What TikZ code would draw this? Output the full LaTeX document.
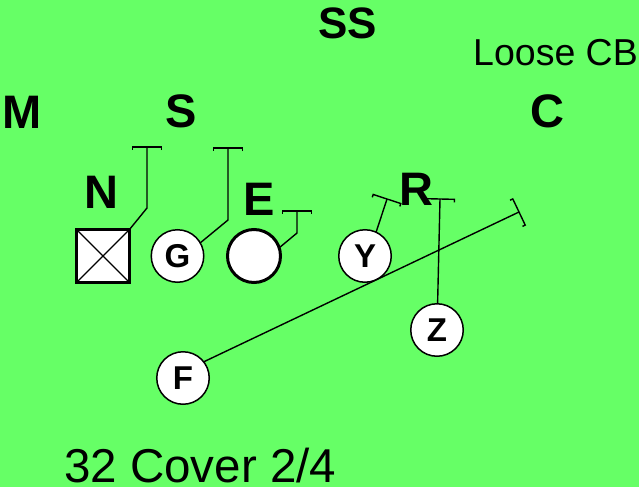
\documentclass[tikz,border=0pt]{standalone}
\usepackage{fontspec}
\setmainfont{Liberation Sans}
\usetikzlibrary{calc}
\definecolor{field}{RGB}{102,255,102}
\newcommand\blockbar[2]{%
  \coordinate (bk) at ($(#1)!3pt!(#2)$);
  \draw[route] ($(bk)!14.5pt!90:(#2)$) -- ($(#1)!14.5pt!90:(#2)$) -- ($(#1)!14.5pt!-90:(#2)$) -- ($(bk)!14.5pt!-90:(#2)$);}
\begin{document}
\begin{tikzpicture}[x=1pt,y=-1pt,
  lbl/.style={font={\fontsize{47}{50}\selectfont\bfseries}, inner sep=0, anchor=base},
  txt/.style={inner sep=0, anchor=base west},
  player/.style={circle, draw, fill=white, line width=1.5pt, minimum size=52.5pt, inner sep=0, outer sep=0, font={\fontsize{33}{36}\selectfont\bfseries}},
  route/.style={line width=1.4pt}]
\fill[field] (0,0) rectangle (639,487);
\useasboundingbox (0,0) rectangle (639,487);
% labels
\node[lbl, font={\fontsize{44}{47}\selectfont\bfseries}] (ss) at (347.5,39) {SS};
\node[txt, font={\fontsize{37.5}{40}\selectfont}] (loose) at (473,65) {Loose CB};
\node[lbl] (m) at (22.5,128) {M};
\node[lbl] (s) at (181,127.5) {S};
\node[lbl] (c) at (547,127) {C};
\node[lbl] (n) at (101,208) {N};
\node[lbl] (e) at (259.5,215) {E};
\node[lbl] (r) at (416,205) {R};
\node[txt, font={\fontsize{47.5}{50}\selectfont}] (title) at (64,482) {32 Cover 2/4};
% players
\node[draw, fill=white, line width=3pt, minimum size=53pt, inner sep=0, outer sep=0] (NB) at (103,256) {};
\draw[route] (NB.north west) -- (NB.south east) (NB.north east) -- (NB.south west);
\node[player] (G) at (177.5,256) {G};
\node[player, line width=3pt, minimum size=53pt] (T) at (254,256) {};
\node[player] (Y) at (365,256) {Y};
\node[player] (Z) at (437,330) {Z};
\node[player] (F) at (183,378) {F};
% route points
\coordinate (n1) at (147,208);
\coordinate (n2) at (147,147);
\coordinate (g1) at (228,220);
\coordinate (g2) at (228,148);
\coordinate (t1) at (297,233);
\coordinate (t2) at (297,211);
\coordinate (y1) at (387,199);
\coordinate (z1) at (440,199);
\coordinate (f1) at (519,212);
% routes
\draw[route] (NB.north east) -- (n1) -- (n2);
\blockbar{n2}{n1}
\draw[route] (G.30) -- (g1) -- (g2);
\blockbar{g2}{g1}
\draw[route] (T.18) -- (t1) -- (t2);
\blockbar{t2}{t1}
\draw[route] (Y.65) -- (y1);
\blockbar{y1}{Y.65}
\draw[route] (Z) -- (z1);
\blockbar{z1}{Z}
\draw[route] (F.38) -- (f1);
\blockbar{f1}{F.38}
\end{tikzpicture}
\end{document}
